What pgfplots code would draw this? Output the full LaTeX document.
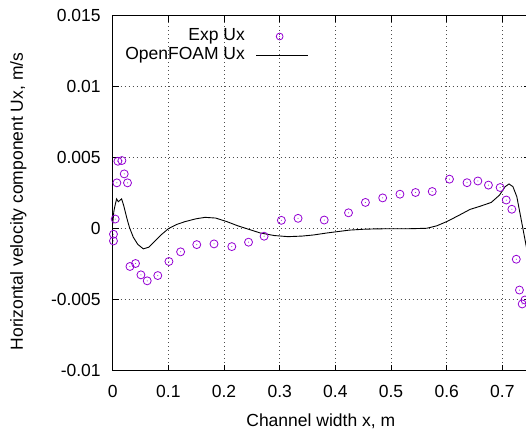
\documentclass[border=0pt]{standalone}
\usepackage{fontspec}
\setmainfont{Liberation Sans}
\usepackage{pgfplots}
\pgfplotsset{compat=1.18}
\definecolor{expviolet}{RGB}{148,0,211}
\pgfdeclareplotmark{odot}{%
  \pgfpathcircle{\pgfpointorigin}{\pgfplotmarksize}\pgfusepathqstroke
  \pgfpathcircle{\pgfpointorigin}{0.5pt}\pgfusepathqfill}
\begin{document}
\fontsize{17.5}{21}\selectfont
\begin{tikzpicture}
\begin{axis}[
  name=ax,
  scale only axis,
  width=417.5pt, height=355pt,
  xmin=0, xmax=0.75,
  ymin=-0.01, ymax=0.015,
  clip=false,
  scaled ticks=false,
  /pgf/number format/assume math mode=true,
  xtick={0,0.1,0.2,0.3,0.4,0.5,0.6,0.7},
  xticklabels={0,0.1,0.2,0.3,0.4,0.5,0.6,0.7},
  ytick={-0.01,-0.005,0,0.005,0.01,0.015},
  yticklabels={-0.01,-0.005,0,0.005,0.01,0.015},
  xticklabel style={yshift=-9pt},
  yticklabel style={xshift=-6pt},
  major tick length=6pt,
  tick style={black, line width=0.8pt},
  axis line style={line width=1.2pt},
  grid=major,
  grid style={dash pattern=on 1pt off 3pt, black!70, line width=0.8pt},
  xlabel={Channel width x, m},
  ylabel={Horizontal velocity component Ux, m/s},
  xlabel style={at={(axis description cs:0.4984,-0.1417)}, anchor=center},
  ylabel style={at={(axis description cs:-0.2259,0.4766)}, anchor=center},
  legend cell align=right,
  legend plot pos=right,
  legend style={draw=none, fill=none, inner sep=0pt, row sep=0pt, column sep=10pt,
    at={(axis cs:0.3521,0.01423)}, anchor=north east,
    nodes={inner sep=1pt, text height=12.5pt, text depth=4.8pt}},
]
\addplot[only marks, mark=odot, mark size=4pt, expviolet, line width=0.8pt,
  legend image code/.code={%
    \path (0pt,0pt) (51.7pt,0pt);
    \draw[mark size=3.4pt] plot coordinates {(23.3pt,0pt)};}]
coordinates {
  (0.0093,0.00475) (0.0165,0.0048) (0.0075,0.00323) (0.0207,0.00386)
  (0.0266,0.00323) (0.0045,0.00068) (0.0014,-0.00039) (0.0014,-0.00086)
  (0.031,-0.00266) (0.041,-0.00245) (0.0507,-0.00325) (0.062,-0.00367)
  (0.081,-0.0033) (0.101,-0.00231) (0.122,-0.00163) (0.151,-0.00112)
  (0.182,-0.00107) (0.214,-0.00126) (0.244,-0.00095) (0.272,-0.00053)
  (0.303,0.00059) (0.333,0.00073) (0.380,0.00061) (0.4236,0.00112)
  (0.454,0.00185) (0.485,0.00217) (0.516,0.00243) (0.544,0.00255)
  (0.574,0.00262) (0.605,0.00349) (0.6365,0.00324) (0.656,0.00336)
  (0.675,0.00307) (0.696,0.0029) (0.707,0.00202) (0.717,0.00137)
  (0.725,-0.00215) (0.7307,-0.00432) (0.7356,-0.0053) (0.7405,-0.00502)
};
\addlegendentry{Exp Ux}
\addplot[black, line width=0.9pt, mark=none,
  legend image code/.code={\draw (0pt,0pt) -- (51.7pt,0pt);}]
coordinates {
  (0,0.0003) (0.002,0.0012) (0.004,0.0016) (0.007,0.0021) (0.010,0.0019)
  (0.013,0.0020) (0.016,0.0021) (0.020,0.0016) (0.025,0.0008) (0.030,0.0001)
  (0.037,-0.0006) (0.045,-0.0011) (0.055,-0.00142) (0.065,-0.0013)
  (0.075,-0.0009) (0.088,-0.0004) (0.100,0.0000) (0.115,0.0003)
  (0.130,0.0005) (0.150,0.0007) (0.166,0.0008) (0.185,0.00075)
  (0.205,0.0005) (0.225,0.0002) (0.241,0.0000) (0.265,-0.0003)
  (0.290,-0.00048) (0.315,-0.00056) (0.340,-0.00052) (0.361,-0.00044)
  (0.385,-0.0003) (0.403,-0.00021) (0.425,-0.0001) (0.450,-0.00004)
  (0.475,-0.00001) (0.504,0.0) (0.535,0.0) (0.564,0.00003) (0.582,0.0002)
  (0.600,0.0005) (0.620,0.0009) (0.642,0.00136) (0.660,0.00158)
  (0.680,0.00185) (0.695,0.00237) (0.705,0.00296) (0.712,0.00315)
  (0.719,0.00296) (0.726,0.00225) (0.734,0.00061) (0.742,-0.00105)
  (0.746,-0.0019)
};
\addlegendentry{OpenFOAM Ux}
\end{axis}
\pgfresetboundingbox
\path[use as bounding box] ([shift={(-112.7pt,-63.3pt)}]ax.south west)
  rectangle ([shift={(413.3pt,15.7pt)}]ax.north west);
\end{tikzpicture}
\end{document}
